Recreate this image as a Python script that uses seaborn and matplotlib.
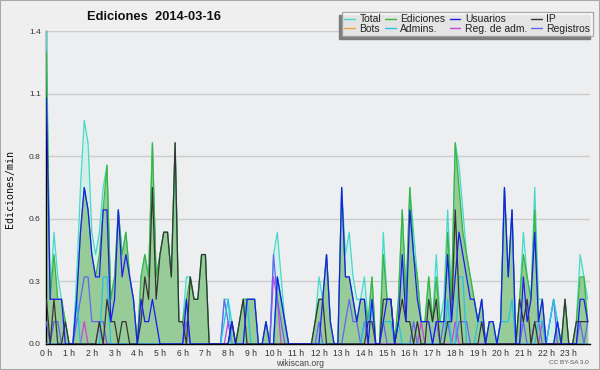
import numpy as np
import pandas as pd
import seaborn as sns
import matplotlib.pyplot as plt
from matplotlib.lines import Line2D
from matplotlib.patches import Rectangle
from matplotlib.ticker import MultipleLocator

sns.set_style('white')
plt.rcParams['font.family'] = ['Liberation Sans', 'DejaVu Sans']

# edits per 10-minute slot (value / 10 = edits per minute), 0h00 .. 23h50
total = [14, 2, 5, 3, 2, 1,  0, 0, 3, 7, 10, 9,
         5, 4, 5, 7, 8, 2,  3, 6, 4, 5, 3, 2,
         0, 3, 4, 3, 9, 3,  4, 5, 5, 3, 9, 1,
         1, 3, 3, 2, 2, 4,  4, 0, 0, 0, 0, 2,
         2, 1, 0, 1, 2, 2,  2, 2, 0, 0, 1, 0,
         4, 5, 3, 1, 0, 0,  0, 0, 0, 0, 0, 1,
         3, 2, 4, 1, 0, 0,  7, 4, 5, 3, 2, 2,
         3, 1, 3, 0, 0, 5,  2, 2, 0, 2, 6, 2,
         7, 5, 3, 1, 1, 3,  1, 4, 1, 2, 6, 2,
         9, 8, 6, 4, 3, 2,  1, 2, 0, 1, 1, 0,
         1, 7, 3, 6, 0, 2,  5, 3, 2, 7, 2, 2,
         0, 1, 2, 1, 0, 2,  0, 0, 1, 4, 3, 2]
ediciones = [13, 2, 4, 2, 2, 1,  0, 0, 2, 5, 7, 6,
             4, 3, 4, 6, 8, 2,  3, 6, 4, 5, 3, 2,
             0, 3, 4, 3, 9, 3,  4, 5, 5, 3, 9, 1,
             1, 2, 3, 2, 2, 4,  4, 0, 0, 0, 0, 0,
             0, 1, 0, 1, 2, 2,  2, 2, 0, 0, 1, 0,
             0, 3, 2, 1, 0, 0,  0, 0, 0, 0, 0, 1,
             2, 2, 4, 1, 0, 0,  7, 3, 3, 2, 1, 2,
             2, 1, 3, 0, 0, 4,  2, 2, 0, 2, 6, 2,
             7, 4, 3, 1, 1, 3,  1, 3, 1, 1, 5, 2,
             9, 7, 5, 4, 3, 2,  1, 2, 0, 1, 1, 0,
             1, 7, 3, 6, 0, 2,  4, 3, 2, 6, 1, 2,
             0, 0, 0, 1, 0, 2,  0, 0, 1, 3, 3, 1]
usuarios = [11, 2, 2, 2, 2, 0,  0, 0, 2, 5, 7, 6,
            4, 3, 3, 6, 6, 1,  2, 6, 3, 4, 3, 2,
            0, 2, 1, 1, 2, 1,  0, 0, 0, 0, 0, 0,
            0, 2, 0, 0, 0, 0,  0, 0, 0, 0, 0, 0,
            0, 1, 0, 0, 0, 2,  2, 2, 0, 0, 1, 0,
            0, 3, 2, 1, 0, 0,  0, 0, 0, 0, 0, 0,
            0, 2, 4, 1, 0, 0,  7, 3, 3, 2, 1, 2,
            2, 0, 2, 0, 0, 1,  2, 2, 0, 1, 4, 1,
            6, 4, 2, 1, 1, 1,  0, 1, 1, 1, 4, 1,
            3, 5, 4, 3, 2, 2,  1, 2, 0, 1, 1, 0,
            1, 7, 3, 6, 0, 0,  3, 1, 2, 5, 1, 2,
            0, 0, 0, 1, 0, 0,  0, 0, 0, 2, 2, 1]
ip = [2, 0, 2, 0, 0, 1,  0, 0, 0, 0, 0, 0,
      0, 0, 1, 0, 2, 1,  1, 0, 1, 1, 0, 0,
      0, 1, 3, 2, 7, 2,  4, 5, 5, 3, 9, 1,
      1, 0, 3, 2, 2, 4,  4, 0, 0, 0, 0, 0,
      0, 1, 0, 1, 2, 0,  0, 0, 0, 0, 0, 0,
      0, 0, 0, 0, 0, 0,  0, 0, 0, 0, 0, 1,
      2, 2, 0, 0, 0, 0,  0, 0, 0, 0, 0, 0,
      0, 1, 1, 0, 0, 2,  2, 2, 0, 1, 2, 1,
      1, 0, 1, 0, 0, 2,  1, 2, 0, 0, 1, 1,
      6, 2, 0, 0, 0, 0,  0, 1, 0, 0, 0, 0,
      0, 0, 0, 0, 0, 2,  1, 2, 0, 1, 0, 0,
      0, 0, 0, 0, 0, 2,  0, 0, 1, 1, 1, 1]
bots = [0] * 144
admins = [0, 0, 0, 0, 0, 0,  0, 0, 2, 0, 0, 0,
          0, 0, 0, 3, 3, 0,  0, 0, 0, 0, 0, 0,
          0, 0, 0, 0, 0, 0,  0, 0, 0, 0, 0, 0,
          0, 0, 0, 0, 0, 0,  0, 0, 0, 0, 0, 1,
          2, 0, 0, 0, 0, 2,  0, 0, 0, 0, 0, 0,
          0, 3, 2, 1, 0, 0,  0, 0, 0, 0, 0, 0,
          0, 0, 0, 0, 0, 0,  0, 0, 0, 0, 0, 0,
          1, 1, 2, 0, 0, 1,  1, 1, 0, 1, 0, 0,
          0, 0, 0, 0, 0, 0,  0, 0, 0, 0, 2, 0,
          0, 3, 3, 0, 0, 0,  1, 1, 0, 0, 0, 0,
          1, 1, 1, 2, 0, 0,  0, 0, 0, 0, 1, 1,
          0, 1, 2, 1, 0, 0,  0, 0, 0, 0, 0, 0]
reg_adm = [0, 0, 0, 0, 0, 0,  0, 0, 0, 0, 1, 0,
           0, 0, 1, 0, 0, 0,  0, 0, 0, 0, 0, 0,
           0, 0, 0, 0, 0, 0,  0, 0, 0, 0, 0, 0,
           0, 0, 0, 0, 0, 0,  0, 0, 0, 0, 0, 0,
           1, 0, 0, 0, 0, 0,  0, 0, 0, 0, 0, 0,
           3, 2, 0, 0, 0, 0,  0, 0, 0, 0, 0, 0,
           0, 0, 0, 0, 0, 0,  0, 0, 0, 0, 0, 0,
           0, 0, 0, 0, 0, 0,  0, 0, 0, 0, 0, 0,
           0, 0, 0, 1, 0, 0,  0, 0, 0, 0, 0, 0,
           1, 0, 0, 0, 0, 0,  0, 0, 0, 0, 0, 0,
           0, 0, 0, 0, 0, 0,  0, 0, 0, 0, 0, 1,
           0, 0, 0, 0, 0, 0,  0, 0, 0, 0, 0, 0]
registros = [1, 0, 1, 1, 0, 0,  0, 0, 1, 2, 3, 3,
             1, 1, 1, 1, 0, 0,  0, 0, 0, 0, 0, 0,
             0, 0, 0, 0, 0, 0,  0, 0, 0, 0, 0, 0,
             0, 1, 0, 0, 0, 0,  0, 0, 0, 0, 0, 2,
             1, 0, 0, 0, 0, 0,  0, 0, 0, 0, 0, 0,
             4, 2, 1, 0, 0, 0,  0, 0, 0, 0, 0, 0,
             1, 0, 0, 0, 0, 0,  0, 1, 2, 1, 1, 0,
             1, 0, 0, 0, 0, 1,  0, 0, 0, 0, 0, 0,
             0, 1, 0, 0, 0, 0,  0, 1, 0, 1, 1, 0,
             0, 1, 1, 1, 0, 0,  0, 0, 0, 0, 0, 0,
             0, 0, 0, 0, 0, 0,  1, 0, 0, 1, 1, 0,
             0, 1, 2, 0, 0, 0,  0, 0, 0, 1, 0, 1]

y_ticks = [0, 0.28, 0.56, 0.84, 1.12, 1.4]
y_labels = ['0.0', '0.3', '0.6', '0.8', '1.1', '1.4']
hour_labels = ['%d h' % h for h in range(24)]

df = pd.DataFrame({
    'h': np.arange(len(total)) / 6,
    'Total': np.array(total) / 10,
    'Ediciones': np.array(ediciones) / 10,
    'Usuarios': np.array(usuarios) / 10,
    'IP': np.array(ip) / 10,
    'Bots': np.array(bots) / 10,
    'Admins.': np.array(admins) / 10,
    'Reg. de adm.': np.array(reg_adm) / 10,
    'Registros': np.array(registros) / 10,
})

colors = {
    'Total': '#45d9cb',
    'Ediciones': '#3cb43c',
    'Usuarios': '#1c1cf0',
    'IP': '#353535',
    'Bots': '#f0a040',
    'Admins.': '#25c3e6',
    'Reg. de adm.': '#cc44dd',
    'Registros': '#6464f5',
}

fig = plt.figure(figsize=(6, 3.7), dpi=100, facecolor='#efefef')
ax = fig.add_axes([46.4 / 600, 1 - 344 / 370, (590 - 46.4) / 600, (344 - 31) / 370])
ax.set_facecolor('#edeef0')

ax.fill_between(df.h, df.Total, color='#d4efea', lw=0, zorder=1)
ax.fill_between(df.h, df.Ediciones, color='#97cb97', lw=0, zorder=2)

draw_order = ['Total', 'Ediciones', 'Bots', 'Reg. de adm.', 'Registros', 'Admins.', 'IP', 'Usuarios']
for name in draw_order:
    sns.lineplot(data=df, x='h', y=name, color=colors[name], lw=0.9, ax=ax, zorder=3)

ax.set_xlim(0, 143.6 / 6)
ax.set_ylim(0, 1.4)
ax.set_xticks(range(24), hour_labels)
ax.xaxis.set_minor_locator(MultipleLocator(1 / 6))
ax.set_yticks(y_ticks, y_labels)
ax.yaxis.set_minor_locator(MultipleLocator(0.07))
ax.tick_params(axis='both', which='both', direction='out', length=3.2, width=1,
               color='black', labelsize=6, labelcolor='#333333', pad=0.8)
ax.tick_params(axis='x', labelsize=6.2, pad=0.3)
ax.set_xlabel('')
ax.set_ylabel('')
ax.grid(axis='y', color='#cccccc', lw=1)
ax.set_axisbelow(True)
for side in ['top', 'right']:
    ax.spines[side].set_visible(False)
for side in ['left', 'bottom']:
    ax.spines[side].set_color('black')
    ax.spines[side].set_linewidth(1)
ax.spines['bottom'].set_zorder(4)

fig.text(154 / 600, 1 - 17 / 370, 'Ediciones  2014-03-16', weight='bold', size=9.3,
         ha='center', va='center', color='#111111')
fig.text(10 / 600, 1 - 189 / 370, 'Ediciones/min', rotation=90, size=7.2,
         family='DejaVu Sans Mono', ha='center', va='center', color='#111111')
fig.text(300 / 600, 1 - 363 / 370, 'wikiscan.org', size=6.2, ha='center',
         va='center', color='#444444')
fig.text(569 / 600, 1 - 363 / 370, 'CC BY-SA 3.0', size=4.6, ha='center',
         va='center', color='#555555')

legend_order = ['Total', 'Bots', 'Ediciones', 'Admins.', 'Usuarios', 'Reg. de adm.', 'IP', 'Registros']
handles = [Line2D([], [], color=colors[n], lw=1) for n in legend_order]
leg = fig.legend(handles, legend_order, ncol=4, loc='upper right',
                 bbox_to_anchor=(593 / 600, 1 - 11.7 / 370), fontsize=7.5,
                 frameon=True, fancybox=False, handlelength=1.0, handletextpad=0.45,
                 columnspacing=0.4, labelspacing=-0.05, borderpad=0.25, borderaxespad=0)
leg.get_frame().set_edgecolor('#9a9a9a')
leg.get_frame().set_linewidth(1)
leg.get_frame().set_facecolor('white')
for txt in leg.get_texts():
    txt.set_color('#222222')

fig.canvas.draw()
bb = leg.get_window_extent()
fig.add_artist(Rectangle((bb.x0 - 3, bb.y0 - 3), bb.width, bb.height, transform=None,
                         color='#7c7c7c', zorder=4.5))
leg.set_zorder(5)

fig.add_artist(Rectangle((0, 0), 1, 1, transform=fig.transFigure, fill=False,
                         ec='#a8a8a8', lw=1.5))

fig.savefig('out.png', dpi=100, facecolor=fig.get_facecolor())
